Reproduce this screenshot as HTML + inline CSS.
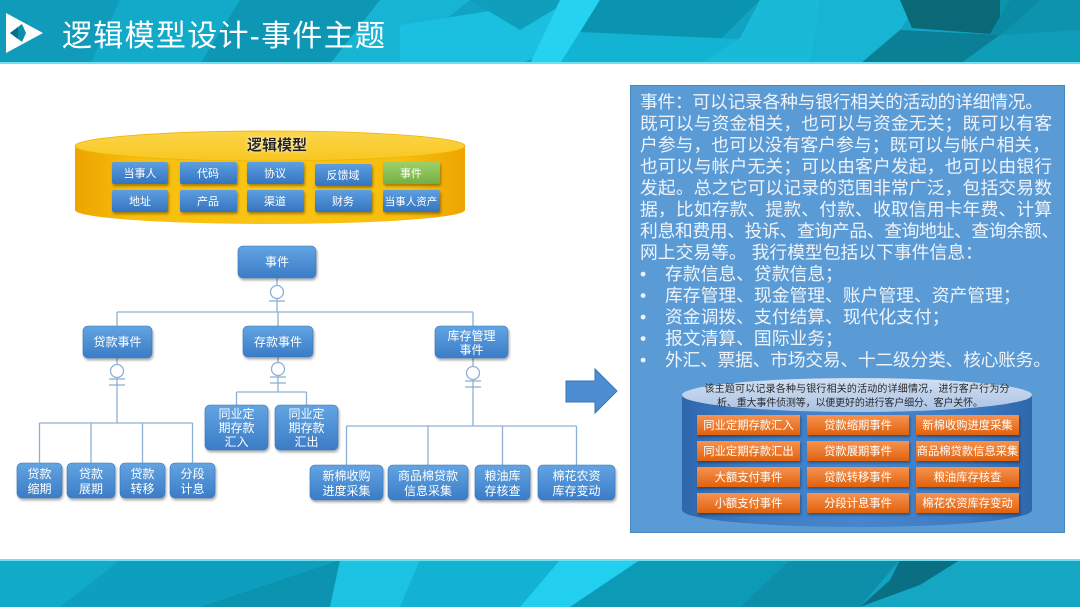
<!DOCTYPE html>
<html>
<head>
<meta charset="utf-8">
<style>
html,body{margin:0;padding:0;background:#fff;}
body{width:1080px;height:607px;overflow:hidden;}
svg{display:block;}
text{font-family:"Liberation Sans","Noto Sans CJK SC",sans-serif;}
</style>
</head>
<body>
<svg width="1080" height="607" viewBox="0 0 1080 607" xmlns="http://www.w3.org/2000/svg">
<defs>
  <linearGradient id="gBlue" x1="0" y1="0" x2="0" y2="1">
    <stop offset="0" stop-color="#5d9fe0"/>
    <stop offset="1" stop-color="#3474c0"/>
  </linearGradient>
  <linearGradient id="gNode" x1="0" y1="0" x2="0" y2="1">
    <stop offset="0" stop-color="#63a4e2"/>
    <stop offset="1" stop-color="#3a7cc6"/>
  </linearGradient>
  <linearGradient id="gGreen" x1="0" y1="0" x2="0" y2="1">
    <stop offset="0" stop-color="#9dd06a"/>
    <stop offset="1" stop-color="#74b043"/>
  </linearGradient>
  <linearGradient id="gOrange" x1="0" y1="0" x2="0" y2="1">
    <stop offset="0" stop-color="#f7934f"/>
    <stop offset="1" stop-color="#e0620f"/>
  </linearGradient>
  <linearGradient id="gGold" x1="0" y1="0" x2="1" y2="0">
    <stop offset="0" stop-color="#eda400"/>
    <stop offset="0.15" stop-color="#f7bd0c"/>
    <stop offset="0.5" stop-color="#fac516"/>
    <stop offset="0.85" stop-color="#f7bd0c"/>
    <stop offset="1" stop-color="#eda400"/>
  </linearGradient>
  <linearGradient id="gGoldTop" x1="0" y1="0" x2="0" y2="1">
    <stop offset="0" stop-color="#fbd54a"/>
    <stop offset="1" stop-color="#f8c620"/>
  </linearGradient>
  <linearGradient id="gCylB" x1="0" y1="0" x2="1" y2="0">
    <stop offset="0" stop-color="#2f67ad"/>
    <stop offset="0.2" stop-color="#3f7cc4"/>
    <stop offset="0.5" stop-color="#4686cc"/>
    <stop offset="0.8" stop-color="#3f7cc4"/>
    <stop offset="1" stop-color="#2f67ad"/>
  </linearGradient>
  <linearGradient id="gCylTop" x1="0" y1="0" x2="0" y2="1">
    <stop offset="0" stop-color="#d3e0f2"/>
    <stop offset="1" stop-color="#a9c2e4"/>
  </linearGradient>
  <filter id="sh" x="-20%" y="-20%" width="140%" height="160%">
    <feDropShadow dx="1" dy="2" stdDeviation="1.2" flood-color="#000" flood-opacity="0.35"/>
  </filter>
  <filter id="glow" x="-10%" y="-30%" width="120%" height="160%">
    <feDropShadow dx="0" dy="0" stdDeviation="1.5" flood-color="#fff" flood-opacity="0.9"/>
  </filter>
</defs>

<!-- HEADER BAND -->
<rect x="0" y="0" width="1080" height="64" fill="#10a3c3"/>
<polygon points="0,0 180,0 140,64 0,64" fill="#0f9bb9"/>
<polygon points="120,0 260,0 220,64 90,64" fill="#13a9c8"/>
<polygon points="240,0 400,0 330,64 200,64" fill="#0e97b4"/>
<polygon points="380,0 470,0 420,40 400,64 330,64" fill="#17b4d4"/>
<polygon points="400,25 560,0 600,30 520,64 400,64" fill="#1bbfdf"/>
<polygon points="470,0 570,0 520,30" fill="#0f9fbd"/>
<polygon points="560,0 600,0 560,64 530,64" fill="#25d2f0"/>
<polygon points="600,0 760,0 720,40 640,64 560,64" fill="#0b94b0"/>
<polygon points="580,32 760,40 700,64 560,64" fill="#13b3d3"/>
<polygon points="760,0 850,0 820,64 700,64 740,38" fill="#19b9d8"/>
<polygon points="820,0 920,0 900,30 860,64 810,64" fill="#18b4d3"/>
<polygon points="860,64 900,30 1000,35 960,64" fill="#0b7f96"/>
<polygon points="900,0 1010,0 990,34 912,28" fill="#0a6877"/>
<polygon points="1000,0 1080,0 1080,30 1000,36" fill="#0d93ae"/>
<polygon points="960,64 1000,35 1080,30 1080,64" fill="#0f9dba"/>
<polygon points="1010,0 1040,0 1000,36 990,34" fill="#0b8aa3"/>
<rect x="0" y="62" width="1080" height="2" fill="#6fe0f2"/>

<!-- Logo -->
<polygon points="6,13 43,33 6,53" fill="#ffffff"/>
<polygon points="10,33 22,24 26,33 22,42" fill="#0c8fab"/>
<polygon points="10,33 18,27 18,39" fill="#0a6f86"/>

<text x="62" y="46" font-size="30" fill="#ffffff" letter-spacing="1.3">逻辑模型设计-事件主题</text>

<!-- FOOTER BAND -->
<rect x="0" y="560" width="1080" height="47" fill="#10a5c5"/>
<polygon points="0,560 120,560 60,607 0,607" fill="#12aac9"/>
<polygon points="120,560 340,560 300,607 60,607" fill="#0f9fbe"/>
<polygon points="200,607 340,560 400,560 330,607" fill="#0c93b0"/>
<polygon points="340,560 420,560 400,607 330,607" fill="#1cc2e2"/>
<polygon points="420,560 560,560 520,607 400,607" fill="#14b2d2"/>
<polygon points="560,560 640,560 570,607 520,607" fill="#22cfee"/>
<polygon points="640,560 790,560 740,607 570,607" fill="#0c9bb7"/>
<polygon points="790,560 900,560 860,607 740,607" fill="#0e8fa9"/>
<polygon points="900,560 960,560 920,585 860,607 890,580" fill="#0a6f82"/>
<polygon points="920,585 960,560 1080,560 1080,607 860,607" fill="#15a6c4"/>
<rect x="0" y="559" width="1080" height="2" fill="#6fe0f2"/>

<!-- LEFT TOP CYLINDER -->
<g>
  <rect x="75" y="146" width="390" height="64" fill="url(#gGold)"/>
  <ellipse cx="270" cy="210" rx="195" ry="14" fill="url(#gGold)"/>
  <ellipse cx="270" cy="146" rx="195" ry="15" fill="url(#gGoldTop)" stroke="#f2b200" stroke-width="0.8"/>
  <text x="277" y="150" font-size="15" font-weight="bold" fill="#222" text-anchor="middle" filter="url(#glow)">逻辑模型</text>
</g>
<!-- buttons row 1 -->
<g filter="url(#sh)">
  <rect x="112" y="162" width="56" height="22" rx="2" fill="url(#gBlue)"/>
  <rect x="180" y="162" width="57" height="22" rx="2" fill="url(#gBlue)"/>
  <rect x="247" y="162" width="57" height="22" rx="2" fill="url(#gBlue)"/>
  <rect x="315" y="164" width="57" height="22" rx="2" fill="url(#gBlue)"/>
  <rect x="383" y="162" width="57" height="22" rx="2" fill="url(#gGreen)"/>
  <rect x="112" y="190" width="56" height="22" rx="2" fill="url(#gBlue)"/>
  <rect x="180" y="190" width="57" height="22" rx="2" fill="url(#gBlue)"/>
  <rect x="247" y="190" width="57" height="22" rx="2" fill="url(#gBlue)"/>
  <rect x="315" y="190" width="57" height="22" rx="2" fill="url(#gBlue)"/>
  <rect x="383" y="190" width="57" height="22" rx="2" fill="url(#gBlue)"/>
</g>
<g font-size="11" fill="#ffffff" text-anchor="middle">
  <text x="140" y="177">当事人</text>
  <text x="208" y="177">代码</text>
  <text x="275" y="177">协议</text>
  <text x="343" y="179">反馈域</text>
  <text x="411" y="177">事件</text>
  <text x="140" y="205">地址</text>
  <text x="208" y="205">产品</text>
  <text x="275" y="205">渠道</text>
  <text x="343" y="205">财务</text>
  <text x="411" y="205" font-size="10.5">当事人资产</text>
</g>

<!-- TREE CONNECTORS -->
<g stroke="#8fb0d2" stroke-width="1.3" fill="none">
  <line x1="277" y1="278" x2="277" y2="312"/>
  <line x1="117" y1="312" x2="473" y2="312"/>
  <line x1="117" y1="312" x2="117" y2="326"/>
  <line x1="278" y1="312" x2="278" y2="326"/>
  <line x1="473" y1="312" x2="473" y2="326"/>
  <line x1="269" y1="301" x2="285" y2="301"/>

  <line x1="117" y1="358" x2="117" y2="423"/>
  <line x1="109" y1="379" x2="125" y2="379"/>
  <line x1="109" y1="385" x2="125" y2="385"/>
  <line x1="39.5" y1="423" x2="192.5" y2="423"/>
  <line x1="39.5" y1="423" x2="39.5" y2="463"/>
  <line x1="91" y1="423" x2="91" y2="463"/>
  <line x1="142.5" y1="423" x2="142.5" y2="463"/>
  <line x1="192.5" y1="423" x2="192.5" y2="463"/>

  <line x1="278" y1="357" x2="278" y2="392"/>
  <line x1="270" y1="377" x2="286" y2="377"/>
  <line x1="270" y1="383" x2="286" y2="383"/>
  <line x1="236.5" y1="392" x2="306.5" y2="392"/>
  <line x1="236.5" y1="392" x2="236.5" y2="405"/>
  <line x1="306.5" y1="392" x2="306.5" y2="405"/>

  <line x1="473" y1="358" x2="473" y2="426"/>
  <line x1="465" y1="381" x2="481" y2="381"/>
  <line x1="465" y1="387" x2="481" y2="387"/>
  <line x1="346.5" y1="426" x2="576.5" y2="426"/>
  <line x1="346.5" y1="426" x2="346.5" y2="465"/>
  <line x1="428" y1="426" x2="428" y2="465"/>
  <line x1="502.5" y1="426" x2="502.5" y2="465"/>
  <line x1="576.5" y1="426" x2="576.5" y2="465"/>
</g>
<g stroke="#8fb0d2" stroke-width="1.3" fill="#ffffff">
  <circle cx="277" cy="292" r="6.5"/>
  <circle cx="117" cy="371" r="6.5"/>
  <circle cx="278" cy="369" r="6.5"/>
  <circle cx="473" cy="373" r="6.5"/>
</g>

<!-- TREE NODES -->
<g filter="url(#sh)" fill="url(#gNode)" stroke="#3a76bb" stroke-width="0.6">
  <rect x="238" y="246" width="78" height="32" rx="5"/>
  <rect x="83" y="326" width="69" height="32" rx="5"/>
  <rect x="243" y="326" width="70" height="31" rx="5"/>
  <rect x="435" y="326" width="73" height="32" rx="5"/>
  <rect x="205" y="405" width="63" height="45" rx="5"/>
  <rect x="275" y="405" width="63" height="45" rx="5"/>
  <rect x="17" y="463" width="45" height="35" rx="5"/>
  <rect x="67" y="463" width="48" height="35" rx="5"/>
  <rect x="120" y="463" width="45" height="35" rx="5"/>
  <rect x="170" y="463" width="45" height="35" rx="5"/>
  <rect x="310" y="465" width="73" height="35" rx="5"/>
  <rect x="388" y="465" width="80" height="35" rx="5"/>
  <rect x="475" y="465" width="55" height="35" rx="5"/>
  <rect x="538" y="465" width="77" height="35" rx="5"/>
</g>
<g font-size="12" fill="#ffffff" text-anchor="middle">
  <text x="277" y="266">事件</text>
  <text x="117.5" y="346">贷款事件</text>
  <text x="278" y="346">存款事件</text>
  <text x="471.5" y="340">库存管理</text>
  <text x="471.5" y="354">事件</text>
  <text x="236.5" y="418">同业定</text>
  <text x="236.5" y="432">期存款</text>
  <text x="236.5" y="446">汇入</text>
  <text x="306.5" y="418">同业定</text>
  <text x="306.5" y="432">期存款</text>
  <text x="306.5" y="446">汇出</text>
  <text x="39.5" y="478">贷款</text>
  <text x="39.5" y="493">缩期</text>
  <text x="91" y="478">贷款</text>
  <text x="91" y="493">展期</text>
  <text x="142.5" y="478">贷款</text>
  <text x="142.5" y="493">转移</text>
  <text x="192.5" y="478">分段</text>
  <text x="192.5" y="493">计息</text>
  <text x="346.5" y="480">新棉收购</text>
  <text x="346.5" y="495">进度采集</text>
  <text x="428" y="480">商品棉贷款</text>
  <text x="428" y="495">信息采集</text>
  <text x="502.5" y="480">粮油库</text>
  <text x="502.5" y="495">存核查</text>
  <text x="576.5" y="480">棉花农资</text>
  <text x="576.5" y="495">库存变动</text>
</g>

<!-- ARROW -->
<polygon points="566,381 595,381 595,369 617,391 595,413 595,402 566,402" fill="#4d8ed3" stroke="#3b73b5" stroke-width="1"/>

<!-- RIGHT BOX -->
<rect x="630.5" y="85.5" width="434" height="447" fill="#5b9bd5" stroke="#4a86c2" stroke-width="1"/>
<g font-size="17.8" fill="#eef3fb">
  <text x="640" y="108" textLength="403" lengthAdjust="spacing">事件：可以记录各种与银行相关的活动的详细情况。</text>
  <text x="640" y="129.5" textLength="412" lengthAdjust="spacing">既可以与资金相关，也可以与资金无关；既可以有客</text>
  <text x="640" y="151" textLength="410" lengthAdjust="spacing">户参与，也可以没有客户参与；既可以与帐户相关，</text>
  <text x="640" y="172.5" textLength="412" lengthAdjust="spacing">也可以与帐户无关；可以由客户发起，也可以由银行</text>
  <text x="640" y="194" textLength="412" lengthAdjust="spacing">发起。总之它可以记录的范围非常广泛，包括交易数</text>
  <text x="640" y="215.5" textLength="412" lengthAdjust="spacing">据，比如存款、提款、付款、收取信用卡年费、计算</text>
  <text x="640" y="237" textLength="419" lengthAdjust="spacing">利息和费用、投诉、查询产品、查询地址、查询余额、</text>
  <text x="640" y="258.5">网上交易等。 我行模型包括以下事件信息：</text>
  <text x="640" y="280">•</text><text x="665" y="280">存款信息、贷款信息；</text>
  <text x="640" y="301.5">•</text><text x="665" y="301.5">库存管理、现金管理、账户管理、资产管理；</text>
  <text x="640" y="323">•</text><text x="665" y="323">资金调拨、支付结算、现代化支付；</text>
  <text x="640" y="344.5">•</text><text x="665" y="344.5">报文清算、国际业务；</text>
  <text x="640" y="366">•</text><text x="665" y="366" textLength="386" lengthAdjust="spacing">外汇、票据、市场交易、十二级分类、核心账务。</text>
</g>

<!-- BOTTOM CYLINDER -->
<rect x="682" y="395" width="350" height="115" fill="url(#gCylB)"/>
<ellipse cx="857" cy="510" rx="175" ry="17" fill="url(#gCylB)"/>
<ellipse cx="857" cy="395" rx="175" ry="17" fill="url(#gCylTop)"/>
<g font-size="10" fill="#2a2a2a" text-anchor="middle">
  <text x="857" y="392" textLength="305" lengthAdjust="spacing">该主题可以记录各种与银行相关的活动的详细情况，进行客户行为分</text>
  <text x="850" y="406" textLength="266" lengthAdjust="spacing">析、重大事件侦测等，以便更好的进行客户细分、客户关怀。</text>
</g>
<g filter="url(#sh)" fill="url(#gOrange)">
  <rect x="697" y="415" width="103" height="20"/>
  <rect x="807" y="415" width="102" height="20"/>
  <rect x="916" y="415" width="103" height="20"/>
  <rect x="697" y="441" width="103" height="20"/>
  <rect x="807" y="441" width="102" height="20"/>
  <rect x="916" y="441" width="103" height="20"/>
  <rect x="697" y="467" width="103" height="20"/>
  <rect x="807" y="467" width="102" height="20"/>
  <rect x="916" y="467" width="103" height="20"/>
  <rect x="697" y="493" width="103" height="20"/>
  <rect x="807" y="493" width="102" height="20"/>
  <rect x="916" y="493" width="103" height="20"/>
</g>
<g font-size="11.3" fill="#ffffff" text-anchor="middle">
  <text x="748.5" y="429">同业定期存款汇入</text>
  <text x="858" y="429">贷款缩期事件</text>
  <text x="967.5" y="429">新棉收购进度采集</text>
  <text x="748.5" y="455">同业定期存款汇出</text>
  <text x="858" y="455">贷款展期事件</text>
  <text x="967.5" y="455">商品棉贷款信息采集</text>
  <text x="748.5" y="481">大额支付事件</text>
  <text x="858" y="481">贷款转移事件</text>
  <text x="967.5" y="481">粮油库存核查</text>
  <text x="748.5" y="507">小额支付事件</text>
  <text x="858" y="507">分段计息事件</text>
  <text x="967.5" y="507">棉花农资库存变动</text>
</g>
</svg>
</body>
</html>
